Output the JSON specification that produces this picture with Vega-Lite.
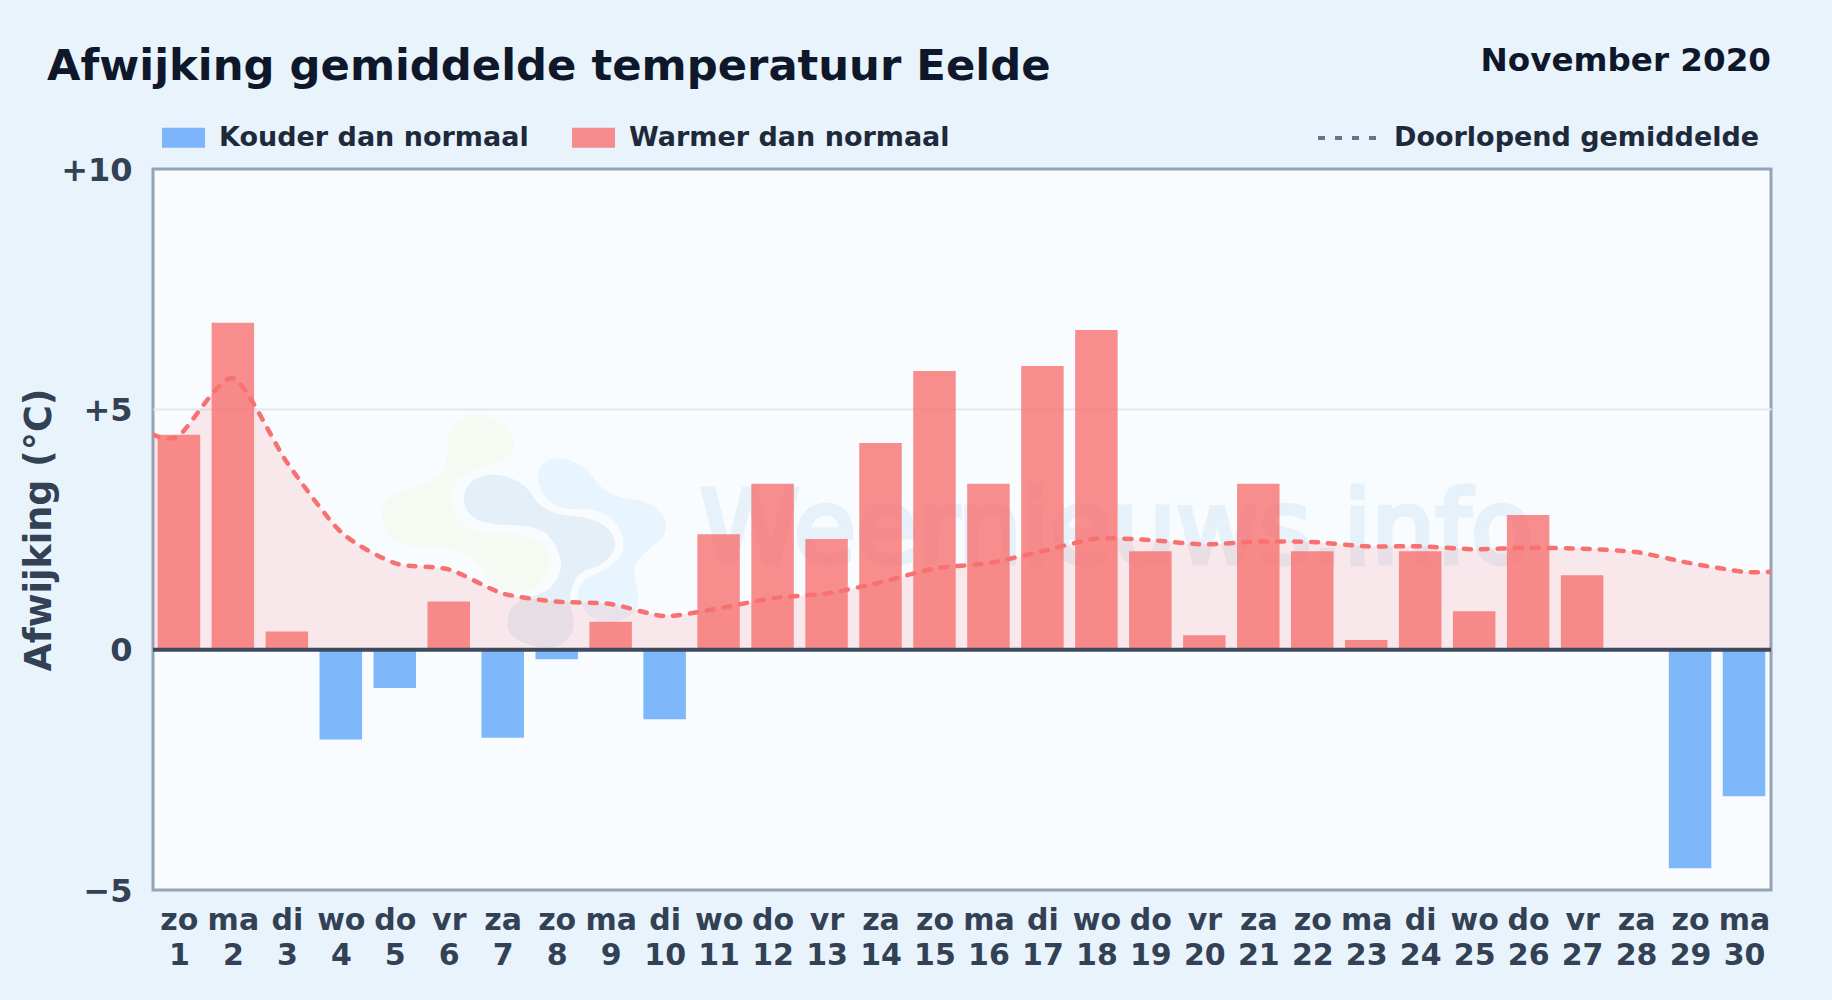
{
"$schema":"https://vega.github.io/schema/vega-lite/v6.json",
"width":1618,"height":721,
"autosize":{"type":"none"},
"padding":{"left":153,"top":169,"right":61,"bottom":110},
"background":"#e9f3fc",
"view":{"fill":"#f8fcff","stroke":"#94a3b8","strokeWidth":3},
"title":{"text":"Afwijking gemiddelde temperatuur Eelde","anchor":"start","frame":"group","dx":-106,"offset":-44,"fontSize":43.3,"font":"DejaVu Sans","fontWeight":"bold","color":"#0f172a"},
"datasets":{
"bars":[
{"day":1,"value":4.47,"kind":"Warmer dan normaal"},{"day":2,"value":6.8,"kind":"Warmer dan normaal"},{"day":3,"value":0.38,"kind":"Warmer dan normaal"},{"day":4,"value":-1.87,"kind":"Kouder dan normaal"},{"day":5,"value":-0.8,"kind":"Kouder dan normaal"},{"day":6,"value":1.0,"kind":"Warmer dan normaal"},{"day":7,"value":-1.83,"kind":"Kouder dan normaal"},{"day":8,"value":-0.2,"kind":"Kouder dan normaal"},{"day":9,"value":0.58,"kind":"Warmer dan normaal"},{"day":10,"value":-1.45,"kind":"Kouder dan normaal"},{"day":11,"value":2.4,"kind":"Warmer dan normaal"},{"day":12,"value":3.45,"kind":"Warmer dan normaal"},{"day":13,"value":2.3,"kind":"Warmer dan normaal"},{"day":14,"value":4.3,"kind":"Warmer dan normaal"},{"day":15,"value":5.8,"kind":"Warmer dan normaal"},{"day":16,"value":3.45,"kind":"Warmer dan normaal"},{"day":17,"value":5.9,"kind":"Warmer dan normaal"},{"day":18,"value":6.65,"kind":"Warmer dan normaal"},{"day":19,"value":2.05,"kind":"Warmer dan normaal"},{"day":20,"value":0.3,"kind":"Warmer dan normaal"},{"day":21,"value":3.45,"kind":"Warmer dan normaal"},{"day":22,"value":2.05,"kind":"Warmer dan normaal"},{"day":23,"value":0.2,"kind":"Warmer dan normaal"},{"day":24,"value":2.05,"kind":"Warmer dan normaal"},{"day":25,"value":0.8,"kind":"Warmer dan normaal"},{"day":26,"value":2.8,"kind":"Warmer dan normaal"},{"day":27,"value":1.55,"kind":"Warmer dan normaal"},{"day":28,"value":0,"kind":"Warmer dan normaal"},{"day":29,"value":-4.55,"kind":"Kouder dan normaal"},{"day":30,"value":-3.05,"kind":"Kouder dan normaal"}
],
"avg":[
{"day":0.5,"avg":4.48,"series":"Doorlopend gemiddelde"},{"day":1,"avg":4.45,"series":"Doorlopend gemiddelde"},{"day":2,"avg":5.65,"series":"Doorlopend gemiddelde"},{"day":3,"avg":3.9,"series":"Doorlopend gemiddelde"},{"day":4,"avg":2.45,"series":"Doorlopend gemiddelde"},{"day":5,"avg":1.8,"series":"Doorlopend gemiddelde"},{"day":6,"avg":1.67,"series":"Doorlopend gemiddelde"},{"day":7,"avg":1.17,"series":"Doorlopend gemiddelde"},{"day":8,"avg":1.0,"series":"Doorlopend gemiddelde"},{"day":9,"avg":0.95,"series":"Doorlopend gemiddelde"},{"day":10,"avg":0.7,"series":"Doorlopend gemiddelde"},{"day":11,"avg":0.86,"series":"Doorlopend gemiddelde"},{"day":12,"avg":1.07,"series":"Doorlopend gemiddelde"},{"day":13,"avg":1.17,"series":"Doorlopend gemiddelde"},{"day":14,"avg":1.4,"series":"Doorlopend gemiddelde"},{"day":15,"avg":1.69,"series":"Doorlopend gemiddelde"},{"day":16,"avg":1.8,"series":"Doorlopend gemiddelde"},{"day":17,"avg":2.05,"series":"Doorlopend gemiddelde"},{"day":18,"avg":2.31,"series":"Doorlopend gemiddelde"},{"day":19,"avg":2.28,"series":"Doorlopend gemiddelde"},{"day":20,"avg":2.19,"series":"Doorlopend gemiddelde"},{"day":21,"avg":2.25,"series":"Doorlopend gemiddelde"},{"day":22,"avg":2.24,"series":"Doorlopend gemiddelde"},{"day":23,"avg":2.15,"series":"Doorlopend gemiddelde"},{"day":24,"avg":2.15,"series":"Doorlopend gemiddelde"},{"day":25,"avg":2.09,"series":"Doorlopend gemiddelde"},{"day":26,"avg":2.12,"series":"Doorlopend gemiddelde"},{"day":27,"avg":2.1,"series":"Doorlopend gemiddelde"},{"day":28,"avg":2.03,"series":"Doorlopend gemiddelde"},{"day":29,"avg":1.8,"series":"Doorlopend gemiddelde"},{"day":30,"avg":1.62,"series":"Doorlopend gemiddelde"},{"day":30.5,"avg":1.62,"series":"Doorlopend gemiddelde"}
]
},
"encoding":{
"x":{"field":"day","type":"quantitative","scale":{"domain":[0.52,30.5],"nice":false,"zero":false,"padding":0},
"axis":{"title":null,"values":[1,2,3,4,5,6,7,8,9,10,11,12,13,14,15,16,17,18,19,20,21,22,23,24,25,26,27,28,29,30],"grid":false,"ticks":false,"domain":false,"labelOverlap":false,"labelFlush":false,"labelPadding":15,"labelFont":"DejaVu Sans","labelFontWeight":"bold","labelFontSize":30,"labelLineHeight":35,"labelColor":"#334155","labelAngle":0,"labelBaseline":"top",
"labelExpr":"split(['zo 1','ma 2','di 3','wo 4','do 5','vr 6','za 7','zo 8','ma 9','di 10','wo 11','do 12','vr 13','za 14','zo 15','ma 16','di 17','wo 18','do 19','vr 20','za 21','zo 22','ma 23','di 24','wo 25','do 26','vr 27','za 28','zo 29','ma 30'][datum.value-1],' ')"}},
"y":{"type":"quantitative","scale":{"domain":[-5,10],"nice":false,"padding":0}}
},
"layer":[
{"data":{"values":[{"day":7.4,"pos":2.7}]},
"mark":{"type":"point","filled":true,"size":40000,"opacity":1,"strokeWidth":0,"color":"#f5faf3","shape":"M-.415 -1.05 Q-.28 -1.03 -.18 -.915 Q-.08 -.8 -.1 -.715 Q-.12 -.63 -.27 -.575 Q-.42 -.52 -.55 -.47 Q-.68 -.42 -.715 -.32 Q-.75 -.22 -.7 -.095 Q-.65 .03 -.535 .09 Q-.42 .15 -.25 .14 Q-.08 .13 .05 .165 Q.18 .2 .23 .315 Q.28 .43 .215 .55 Q.15 .67 .035 .7 Q-.08 .73 -.2 .7 Q-.32 .67 -.385 .55 Q-.45 .43 -.565 .35 Q-.68 .27 -.88 .27 Q-1.08 .27 -1.215 .235 Q-1.35 .2 -1.4 .065 Q-1.45 -.07 -1.4 -.17 Q-1.35 -.27 -1.135 -.32 Q-.92 -.37 -.845 -.45 Q-.77 -.53 -.77 -.715 Q-.77 -.9 -.66 -.985 Q-.55 -1.07 -.415 -1.05 Z"},
"encoding":{"y":{"field":"pos","type":"quantitative","axis":{"title":"Afwijking (°C)","values":[-5,0,5,10],"grid":true,"gridColor":"#e2e8f0","gridWidth":2,"gridOpacity":{"condition":{"test":"datum.value==5","value":1},"value":0},"ticks":false,"domain":false,"labelPadding":21,"labelOffset":1,"labelFont":"DejaVu Sans","labelFontWeight":"bold","labelFontSize":32,"labelColor":"#334155","labelExpr":"datum.value>0?'+'+datum.value:datum.value<0?'−'+abs(datum.value):'0'","titleFont":"DejaVu Sans","titleFontWeight":"bold","titleFontSize":36.5,"titleColor":"#334155","titlePadding":2}}}},
{"data":{"values":[{"day":7.4,"pos":2.7}]},
"mark":{"type":"point","filled":true,"size":40000,"opacity":1,"strokeWidth":0,"color":"#e8f5fe","shape":"M.5 -.58 Q.62 -.53 .685 -.43 Q.75 -.33 .85 -.275 Q.95 -.22 1.085 -.21 Q1.22 -.2 1.32 -.115 Q1.42 -.03 1.42 .07 Q1.42 .17 1.3 .25 Q1.18 .33 1.13 .415 Q1.08 .5 1.115 .635 Q1.15 .77 1.135 .85 Q1.12 .93 1.02 .98 Q.92 1.03 .8 1.015 Q.68 1 .615 .915 Q.55 .83 .535 .765 Q.52 .7 .57 .635 Q.62 .57 .75 .52 Q.88 .47 .95 .37 Q1.02 .27 .97 .135 Q.92 0 .8 -.06 Q.68 -.12 .515 -.11 Q.35 -.1 .26 -.185 Q.17 -.27 .145 -.37 Q.12 -.47 .17 -.535 Q.22 -.6 .3 -.615 Q.38 -.63 .5 -.58 Z"},
"encoding":{"y":{"field":"pos","type":"quantitative"}}},
{"data":{"values":[{"day":7.4,"pos":2.7}]},
"mark":{"type":"point","filled":true,"size":40000,"opacity":1,"strokeWidth":0,"color":"#e5eff8","shape":"M-.115 -.41 Q.02 -.35 .07 -.26 Q.12 -.17 .22 -.11 Q.32 -.05 .485 -.04 Q.65 -.03 .765 .035 Q.88 .1 .9 .2 Q.92 .3 .85 .375 Q.78 .45 .665 .485 Q.55 .52 .51 .595 Q.47 .67 .46 .75 Q.45 .83 .485 .95 Q.52 1.07 .45 1.17 Q.38 1.27 .25 1.275 Q.12 1.28 -.015 1.225 Q-.15 1.17 -.165 1.07 Q-.18 .97 -.13 .885 Q-.08 .8 .07 .765 Q.22 .73 .285 .65 Q.35 .57 .365 .485 Q.38 .4 .315 .265 Q.25 .13 .135 .09 Q.02 .05 -.15 .05 Q-.32 .05 -.435 .01 Q-.55 -.03 -.59 -.13 Q-.63 -.23 -.575 -.325 Q-.52 -.42 -.385 -.445 Q-.25 -.47 -.115 -.41 Z"},
"encoding":{"y":{"field":"pos","type":"quantitative"}}},
{"data":{"values":[{"day":18.37,"pos":1.81,"label":"Weernieuws.info"}]},
"mark":{"type":"text","font":"DejaVu Sans","fontWeight":"normal","fontSize":101,"fill":"#e6f1fa","stroke":"#e6f1fa","strokeWidth":5,"align":"center","baseline":"alphabetic"},
"encoding":{"y":{"field":"pos","type":"quantitative"},"text":{"field":"label"}}},
{"data":{"name":"avg"},"mark":{"type":"area","interpolate":"cardinal","tension":0.3,"color":"#f87171","opacity":0.14,"clip":true},
"encoding":{"y":{"field":"avg","type":"quantitative"},"y2":{"datum":0}}},
{"data":{"name":"bars"},"mark":{"type":"bar","orient":"vertical","width":42.5,"opacity":0.8},
"encoding":{"y":{"field":"value","type":"quantitative"},
"color":{"field":"kind","type":"nominal","scale":{"domain":["Kouder dan normaal","Warmer dan normaal"],"range":["#60a5fa","#f87171"]},
"legend":{"title":null,"orient":"none","direction":"horizontal","legendX":9,"legendY":-53,"symbolType":"M-1 -.46H1V.46H-1Z","symbolSize":1849,"symbolOpacity":0.8,"symbolStrokeWidth":0,"labelFont":"DejaVu Sans","labelFontWeight":"bold","labelFontSize":27,"labelColor":"#1e293b","labelOffset":14,"labelLimit":600,"columnPadding":43}}}},
{"data":{"name":"avg"},"mark":{"type":"line","interpolate":"cardinal","tension":0.3,"color":"#f87171","strokeWidth":4.5,"strokeCap":"round","clip":true},
"encoding":{"y":{"field":"avg","type":"quantitative"},
"strokeDash":{"field":"series","type":"nominal","scale":{"domain":["Doorlopend gemiddelde"],"range":[[7,10]]},
"legend":{"title":null,"orient":"none","direction":"horizontal","legendX":1163,"legendY":-63,"symbolType":"stroke","symbolSize":3600,"symbolStrokeWidth":4,"symbolStrokeColor":"#64748b","symbolDash":[4,12],"labelFont":"DejaVu Sans","labelFontWeight":"bold","labelFontSize":27,"labelColor":"#1e293b","labelOffset":14,"labelLimit":600,"encode":{"symbols":{"update":{"strokeDash":{"value":[4,12]}}}}}}}},
{"data":{"values":[{"day":0.52,"end":30.5,"pos":0}]},"mark":{"type":"rule","color":"#3f4a5e","strokeWidth":4},"encoding":{"x2":{"field":"end"},"y":{"field":"pos","type":"quantitative"}}},
{"data":{"values":[{"day":30.5,"pos":10,"label":"November 2020"}]},
"mark":{"type":"text","font":"DejaVu Sans","fontWeight":"bold","fontSize":32.6,"color":"#0f172a","align":"right","baseline":"alphabetic","dy":-98},
"encoding":{"y":{"field":"pos","type":"quantitative"},"text":{"field":"label"}}}
]
}
